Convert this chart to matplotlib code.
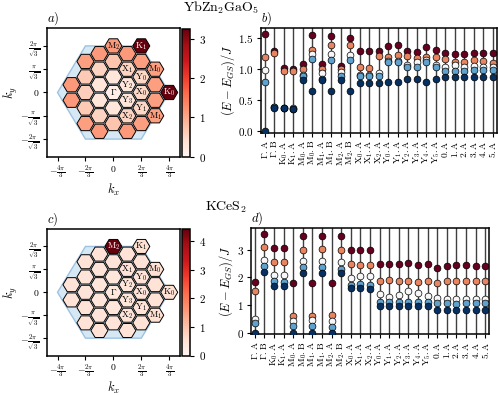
import numpy as np
import matplotlib.pyplot as plt
from matplotlib.patches import RegularPolygon, Polygon
from matplotlib import cm, colors

plt.rcParams['mathtext.fontset'] = 'cm'
plt.rcParams['font.family'] = 'serif'
plt.rcParams['font.serif'] = ['DejaVu Serif']
plt.rcParams['axes.linewidth'] = 1.1

# ---- k-points of the 36-site cluster (kx in units of pi/3, ky in units of pi/(3*sqrt3))
k_i = [0, 2, -1, 1, -2, 0, 2, -1, 1, 3, -2, 0, 2, -3, -1, 1, 3, -2, 0, 2, 4,
       -3, -1, 1, 3, -2, 0, 2, -1, 1, 3, -2, 0, 2, -1, 1]
k_j = [6, 6, 5, 5, 4, 4, 4, 3, 3, 3, 2, 2, 2, 1, 1, 1, 1, 0, 0, 0, 0,
       -1, -1, -1, -1, -2, -2, -2, -3, -3, -3, -4, -4, -4, -5, -5]
k_names = ['M_2', 'K_1', '', '', '', '', '', '', 'X_1', 'M_0', '', '', 'Y_0', '', '', 'Y_2', '',
           '', r'\Gamma', 'X_0', 'K_0', '', '', 'Y_3', '', '', '', 'Y_1', '', 'X_2', 'M_1',
           '', '', '', '', '']

# structure factor
sk_ybzn = [1.15, 3.25, 1.15, 1.15, 1.10, 0.70, 1.10, 0.55, 0.55, 1.10, 0.65, 0.30, 0.50,
           1.15, 0.30, 0.30, 1.10, 0.60, 0.12, 0.50, 3.25, 1.15, 0.30, 0.30, 1.10,
           0.65, 0.30, 0.50, 0.55, 0.55, 1.10, 1.10, 0.70, 1.10, 1.15, 1.15]
sk_kces = [4.42, 0.55, 0.50, 0.50, 0.50, 0.45, 0.50, 0.45, 0.45, 0.55, 0.45, 0.40, 0.45,
           0.50, 0.40, 0.40, 0.50, 0.45, 0.35, 0.45, 0.55, 0.50, 0.40, 0.40, 0.50,
           0.45, 0.40, 0.45, 0.45, 0.45, 0.55, 0.50, 0.45, 0.50, 0.50, 0.50]

# ---- spectra: symmetry sectors and the five lowest levels
sectors = [r'\Gamma.A', r'\Gamma.B', 'K_0.A', 'K_1.A', 'M_0.A', 'M_0.B', 'M_1.A', 'M_1.B',
           'M_2.A', 'M_2.B', 'X_0.A', 'X_1.A', 'X_2.A', 'Y_0.A', 'Y_1.A', 'Y_2.A', 'Y_3.A',
           'Y_4.A', 'Y_5.A', '0.A', '1.A', '2.A', '3.A', '4.A', '5.A']

ybzn_e0 = [0.00, 0.375, 0.36, 0.35, 0.82, 0.64, 0.81, 0.64, 0.81, 0.645, 0.774, 0.774, 0.774,
           0.785, 0.785, 0.83, 0.83, 0.785, 0.83, 0.87, 0.87, 0.87, 0.87, 0.87, 0.87]
ybzn_e1 = [0.785, 0.38, 0.365, 0.355, 0.88, 1.15, 0.84, 1.14, 0.88, 1.14, 0.89, 0.89, 0.88,
           1.10, 1.10, 1.03, 1.03, 1.10, 1.03, 0.97, 0.97, 0.97, 0.98, 0.98, 0.98]
ybzn_e2 = [0.98, 0.385, 0.37, 0.36, 0.90, 1.24, 0.93, 1.24, 0.95, 1.22, 0.895, 0.895, 0.925,
           1.13, 1.12, 1.06, 1.10, 1.14, 1.06, 1.02, 1.06, 1.03, 1.04, 1.03, 1.02]
ybzn_e3 = [1.18, 1.26, 0.963, 0.96, 0.99, 1.30, 1.00, 1.38, 0.99, 1.38, 1.02, 1.015, 1.21,
           1.19, 1.22, 1.20, 1.17, 1.18, 1.19, 1.16, 1.11, 1.11, 1.14, 1.12, 1.09]
ybzn_e4 = [1.56, 1.285, 1.006, 1.00, 1.08, 1.54, 1.07, 1.53, 1.05, 1.50, 1.285, 1.285, 1.285,
           1.36, 1.38, 1.29, 1.27, 1.35, 1.30, 1.26, 1.23, 1.23, 1.26, 1.25, 1.26]

kces_e0 = [0.00, 2.19, 1.69, 1.69, 0.00, 2.17, 0.00, 2.17, 0.00, 2.15, 1.61, 1.61, 1.58,
           0.97, 0.97, 0.97, 0.97, 0.97, 0.97, 0.82, 0.82, 0.82, 0.82, 0.82, 0.82]
kces_e1 = [0.34, 2.42, 1.85, 1.83, 0.22, 2.36, 0.22, 2.36, 0.19, 2.31, 1.73, 1.75, 1.73,
           1.12, 1.09, 1.09, 1.12, 1.12, 1.10, 1.06, 1.06, 1.04, 1.06, 1.06, 1.06]
kces_e2 = [0.50, 2.63, 2.09, 2.07, 0.40, 2.57, 0.46, 2.60, 0.40, 2.56, 1.99, 2.05, 2.03,
           1.39, 1.27, 1.36, 1.49, 1.43, 1.33, 1.24, 1.21, 1.21, 1.22, 1.21, 1.22]
kces_e3 = [1.49, 3.10, 2.54, 2.54, 0.60, 3.00, 0.60, 3.03, 0.64, 2.97, 2.48, 2.45, 2.43,
           1.87, 1.91, 1.87, 1.87, 1.82, 1.87, 1.79, 1.85, 1.85, 1.87, 1.85, 1.88]
kces_e4 = [1.82, 3.56, 3.06, 3.06, 1.79, 3.48, 1.79, 3.48, 1.79, 3.50, 2.97, 3.00, 2.97,
           2.48, 2.49, 2.49, 2.51, 2.46, 2.48, 2.33, 2.39, 2.43, 2.44, 2.42, 2.42]

level_colors = ['#053061', '#5fa2cd', '#f7f7f7', '#e8845f', '#67001f']


def dibujar_bz(ax, cax, valores, vmax, cb_ticks, letra):
    pi = np.pi
    s3 = np.sqrt(3)
    bz = [(4 * pi / 3, 0), (2 * pi / 3, 2 * pi / s3), (-2 * pi / 3, 2 * pi / s3),
          (-4 * pi / 3, 0), (-2 * pi / 3, -2 * pi / s3), (2 * pi / 3, -2 * pi / s3)]
    ax.add_patch(Polygon(bz, closed=True, facecolor='#d5e8f3', edgecolor='#9dc3e2', lw=1.0, zorder=1))

    norm = colors.Normalize(vmin=0, vmax=vmax)
    cmap = plt.get_cmap('Reds')
    for i, j, v, nome in zip(k_i, k_j, valores, k_names):
        kx = i * pi / 3
        ky = j * pi / (3 * s3)
        hexa = RegularPolygon((kx, ky), numVertices=6, radius=0.64, orientation=pi / 6,
                              facecolor=cmap(norm(v)), edgecolor='black', lw=0.7, zorder=2)
        ax.add_patch(hexa)
        if nome:
            cor = 'white' if v > 0.6 * vmax else 'black'
            ax.text(kx, ky, r'$\mathrm{' + nome + '}$', ha='center', va='center',
                    fontsize=6.5, color=cor, zorder=3)

    ax.set_xlim(-5, 5)
    ax.set_ylim(-5, 5)
    ax.set_xticks([-4 * pi / 3, -2 * pi / 3, 0, 2 * pi / 3, 4 * pi / 3])
    ax.set_xticklabels([r'$-\frac{4\pi}{3}$', r'$-\frac{2\pi}{3}$', r'$0$',
                        r'$\frac{2\pi}{3}$', r'$\frac{4\pi}{3}$'], fontsize=7)
    ax.set_yticks([-2 * pi / s3, -pi / s3, 0, pi / s3, 2 * pi / s3])
    ax.set_yticklabels([r'$-\frac{2\pi}{\sqrt{3}}$', r'$-\frac{\pi}{\sqrt{3}}$', r'$0$',
                        r'$\frac{\pi}{\sqrt{3}}$', r'$\frac{2\pi}{\sqrt{3}}$'], fontsize=7)
    ax.tick_params(length=3, width=0.8, pad=2)
    ax.set_xlabel(r'$k_x$', fontsize=9, labelpad=0)
    ax.set_ylabel(r'$k_y$', fontsize=9, labelpad=0)
    ax.text(0.0, 1.01, r'$' + letra + ')$', transform=ax.transAxes, fontsize=9,
            ha='left', va='bottom')

    cb = plt.colorbar(cm.ScalarMappable(norm=norm, cmap=cmap), cax=cax)
    cb.set_ticks(cb_ticks)
    cb.set_ticklabels([r'$%d$' % t for t in cb_ticks])
    cb.ax.tick_params(labelsize=8, length=3, width=0.8)
    cb.outline.set_linewidth(1.1)


def dibujar_espectro(ax, niveles, ylim, yticks, yticklabels, letra):
    x = np.arange(len(sectors))
    for xi in x:
        ax.axvline(xi, color='0.25', lw=1.0, zorder=1)
    # los niveles bajos se dibujan encima
    for nivel, cor in reversed(list(zip(niveles, level_colors))):
        ax.scatter(x, nivel, s=24, color=cor, edgecolors='black', linewidths=0.5, zorder=3)
    ax.set_xlim(-0.42, len(sectors) - 0.58)
    ax.set_ylim(*ylim)
    ax.set_xticks(x)
    ax.set_xticklabels([r'$\mathrm{' + s + '}$' for s in sectors], rotation=90, fontsize=6.8)
    ax.set_yticks(yticks)
    ax.set_yticklabels(yticklabels, fontsize=8)
    ax.tick_params(length=3, width=0.8, pad=2)
    ax.set_ylabel(r'$(E-E_{GS})/J$', fontsize=9, labelpad=1)
    ax.text(0.0, 1.01, r'$' + letra + ')$', transform=ax.transAxes, fontsize=9,
            ha='left', va='bottom')


fig = plt.figure(figsize=(4.98, 3.95), dpi=100)

ax_a = fig.add_axes([0.0938, 0.6033, 0.2677, 0.3251])
cax_a = fig.add_axes([0.3649, 0.6033, 0.0167, 0.3226])
ax_b = fig.add_axes([0.5235, 0.6633, 0.4739, 0.2651])
ax_c = fig.add_axes([0.0938, 0.1000, 0.2677, 0.3200])
cax_c = fig.add_axes([0.3649, 0.1000, 0.0167, 0.3200])
ax_d = fig.add_axes([0.5034, 0.1532, 0.4791, 0.2689])

dibujar_bz(ax_a, cax_a, sk_ybzn, 3.25, [0, 1, 2, 3], 'a')
dibujar_bz(ax_c, cax_c, sk_kces, 4.42, [0, 1, 2, 3, 4], 'c')

dibujar_espectro(ax_b, [ybzn_e0, ybzn_e1, ybzn_e2, ybzn_e3, ybzn_e4], (-0.035, 1.65),
                 [0, 0.5, 1.0, 1.5], [r'$0.0$', r'$0.5$', r'$1.0$', r'$1.5$'], 'b')
dibujar_espectro(ax_d, [kces_e0, kces_e1, kces_e2, kces_e3, kces_e4], (-0.07, 3.77),
                 [0, 1, 2, 3], [r'$0$', r'$1$', r'$2$', r'$3$'], 'd')

fig.text(0.445, 0.981, r'$\mathrm{YbZn_2GaO_5}$', ha='center', va='center', fontsize=10)
fig.text(0.453, 0.476, r'$\mathrm{KCeS_2}$', ha='center', va='center', fontsize=10)

fig.savefig('out.png', dpi=100)
